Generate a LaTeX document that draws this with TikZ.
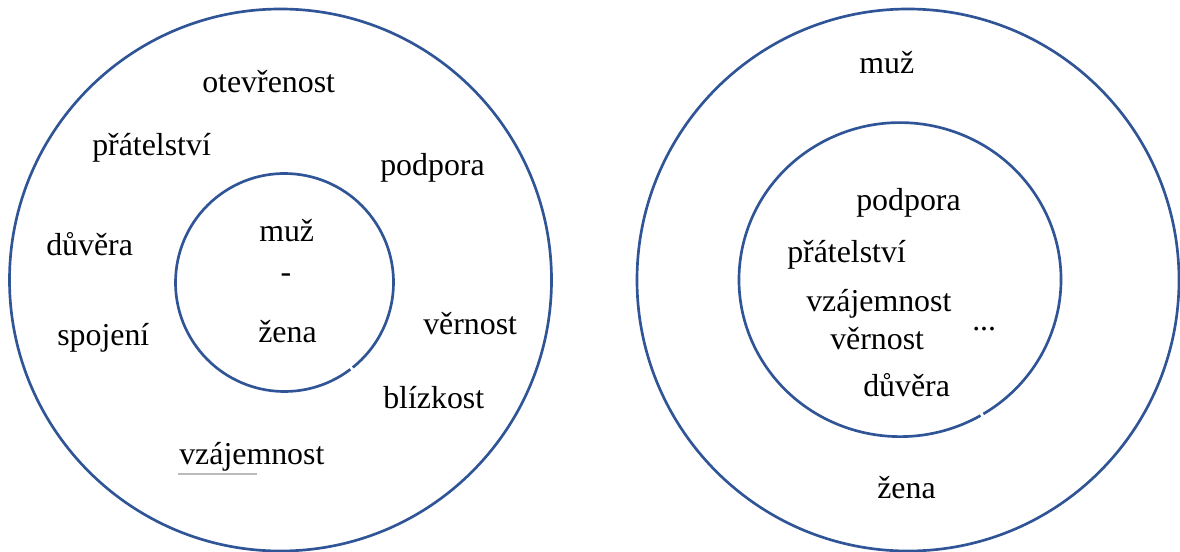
\documentclass[tikz,border=0pt]{standalone}
\usepackage{fontspec}
\setmainfont{Liberation Serif}
\definecolor{ringblue}{HTML}{2F5597}
\definecolor{ulgray}{HTML}{BBBBBB}
\begin{document}
\begin{tikzpicture}[x=0.75pt,y=0.75pt,
  ring/.style={draw=ringblue,line width=2pt},
  word/.style={anchor=base west,inner sep=0pt,font=\fontsize{23.9}{28}\selectfont},
  wordc/.style={anchor=base,inner sep=0pt,font=\fontsize{23.9}{28}\selectfont}]
\useasboundingbox (0,0) rectangle (1180,551);
% left diagram
\coordinate (lo) at (280.5,271);
\coordinate (li) at (284.5,268.5);
\draw[ring] (lo) circle[radius=203.25pt];
\draw[ring] ([shift={(-51.2:81.75pt)}]li) arc[start angle=-51.2,end angle=307.2,radius=81.75pt];
\node[word] (otev) at (202,551-92.5) {otevřenost};
\node[word] (prat) at (92,551-155) {přátelství};
\node[word] (podp) at (380,551-175) {podpora};
\node[word] (duv) at (46,551-255) {důvěra};
\node[word] (spoj) at (57,551-345) {spojení};
\node[word] (vern) at (423,551-334) {věrnost};
\node[word] (bliz) at (383,551-408) {blízkost};
\node[word] (vzaj) at (179,551-464) {vzájemnost};
\coordinate (ula) at (178,551-474);
\coordinate (ulb) at (257,551-474);
\draw[ulgray,line width=0.8pt] (ula) -- (ulb);
\node[word] (muzL) at (259,551-241.7) {muž};
\node[wordc] (dash) at (286,551-282.5) {-};
\node[word] (zenaL) at (258,551-342.7) {žena};
% right diagram
\coordinate (ro) at (908,271);
\coordinate (ri) at (900,271.4);
\draw[ring] (ro) circle[radius=203.25pt];
\draw[ring] ([shift={(-58.8:120.75pt and 117.75pt)}]ri) arc[start angle=-58.8,end angle=300,x radius=120.75pt,y radius=117.75pt];
\node[word] (muzR) at (859,551-74) {muž};
\node[word] (podpR) at (856,551-210) {podpora};
\node[word] (pratR) at (787,551-262.7) {přátelství};
\node[word] (vzajR) at (806,551-311.7) {vzájemnost};
\node[word] (vernR) at (830,551-349.3) {věrnost};
\node[word] (dots) at (972,551-330) {...};
\node[word] (duvR) at (863,551-396) {důvěra};
\node[word] (zenaR) at (877,551-498) {žena};
\end{tikzpicture}
\end{document}
